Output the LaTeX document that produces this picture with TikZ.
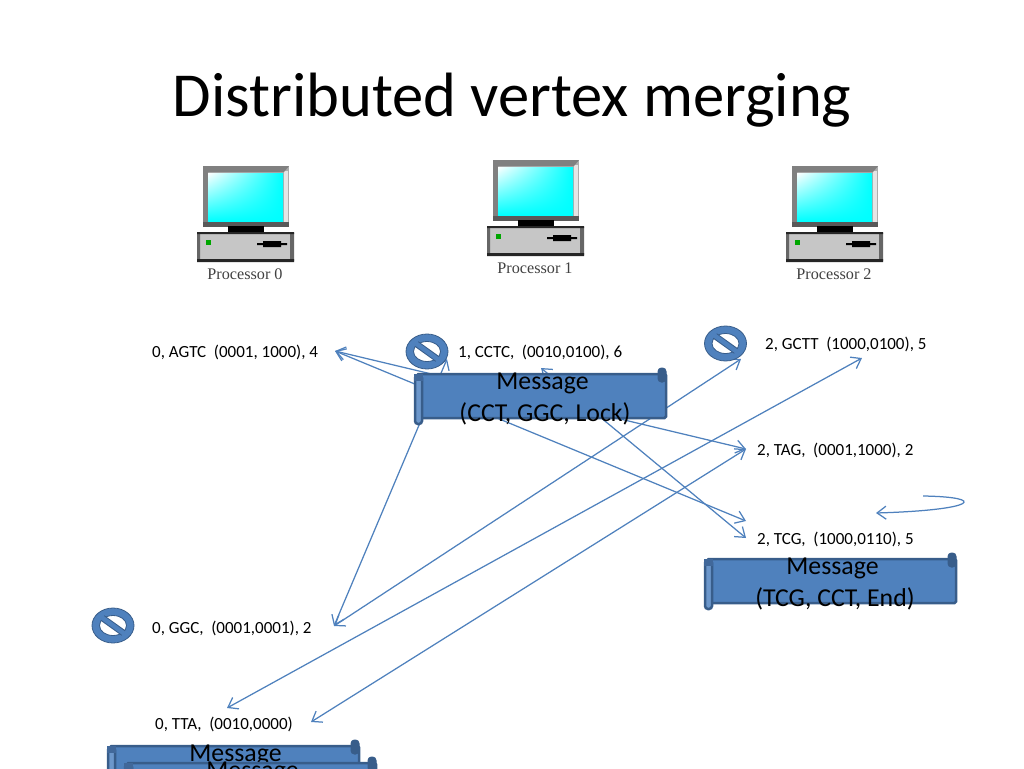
\documentclass[tikz,border=0pt]{standalone}
\usepackage{fontspec}
\usepackage{tikz}
\usepackage{xcolor}
\usetikzlibrary{arrows.meta,shadings}
\setmainfont{Carlito}
\newfontfamily\procfont{Liberation Serif}
\definecolor{linkblue}{HTML}{4F81BD}
\definecolor{rolledge}{HTML}{385D8A}
\definecolor{rollshade}{HTML}{41689A}
\definecolor{rolllight}{HTML}{6C97CB}
\tikzset{
  lab/.style={anchor=base west,inner sep=0pt,font=\fontsize{17}{20}\selectfont},
  link/.style={<->,draw=linkblue,line width=1.25pt},
  pics/computer/.style={code={
    \fill[gray!65] (0,0) rectangle (86,61);
    \fill[gray!20] (81,5) rectangle (85,56);
    \fill[gray] (0,0) -- (86,0) -- (81,6) -- (5,6) -- (5,56) -- (0,61) -- cycle;
    \fill[gray!70!black] (0,56) rectangle (86,61);
    \shade[upper left=white,upper right=cyan,lower left=cyan,lower right=cyan] (5,7) rectangle (80,55);
    \fill[black] (25,60) rectangle (61,66);
    \fill[gray!45] (-6,67) rectangle (91,95);
    \fill[gray!80!black] (-6,67) rectangle (-3,95) (87,67) rectangle (91,95);
    \fill[gray!30!black] (-6,66) rectangle (91,68) (-6,93) rectangle (91,96);
    \fill[green!65!black] (3,74) rectangle (8,79);
    \fill[black] (54,77) rectangle (84,79) (60,75) rectangle (78,81);
    \node (-label) [inner sep=0pt,text=black!75,font=\procfont\fontsize{16.2}{18}\selectfont] at (42,108.5) {#1};
  }},
  pics/nosign/.style={code={
    \draw[draw=rolledge,fill=linkblue,even odd rule,line width=0.8pt]
      (0,0) ellipse [x radius=21,y radius=17.5] (0,0) ellipse [x radius=13.5,y radius=10];
    \draw[draw=rolledge,line width=6.5pt] (-10.5,-7.5) -- (10.5,7.5);
    \draw[draw=linkblue,line width=4.5pt] (-11,-8) -- (11,8);
  }},
  pics/scrollbox/.style={code={
    \draw[draw=rolledge,fill=linkblue,line width=2.5pt,rounded corners=1.5pt] (2,0) rectangle (251,44);
    \draw[draw=rolledge,fill=rolledge,line width=1pt,rounded corners=3.5pt] (243,-6) rectangle (251,8);
    \draw[draw=rolledge,fill=rolllight,line width=2.5pt,rounded corners=3pt] (0,1) rectangle (7,50);
    \fill[rollshade] (-1,0) rectangle (8,7);
    \node (-text) [anchor=north,inner sep=0pt,align=center,font=\fontsize{25.8}{31.5}\selectfont] at (127.5,-1) {#1};
  }}
}
\begin{document}
\begin{tikzpicture}[x=1pt,y=-1pt,>={Straight Barb[length=9pt,width=13pt]}]
  \useasboundingbox (0,0) rectangle (1024,768);
  \clip (0,0) rectangle (1024,768);

  \node (title) [inner sep=0pt,font=\fontsize{62.6}{70}\selectfont] at (512,100) {Distributed vertex merging};

  \pic (proc0) at (203,166) {computer={Processor 0}};
  \pic (proc1) at (493,160) {computer={Processor 1}};
  \pic (proc2) at (792,166) {computer={Processor 2}};

  \node (AGTC) [lab] at (152,357) {0, AGTC\ \ (0001, 1000), 4};
  \node (CCTC) [lab] at (458,357) {1, CCTC,\ \ (0010,0100), 6};
  \node (GCTT) [lab] at (765,349) {2, GCTT\ \ (1000,0100), 5};
  \node (TAG) [lab] at (757,455) {2, TAG,\ \ (0001,1000), 2};
  \node (TCG) [lab] at (757,544) {2, TCG,\ \ (1000,0110), 5};
  \node (GGC) [lab] at (152,633) {0, GGC,\ \ (0001,0001), 2};
  \node (TTA) [lab] at (155,729) {0, TTA,\ \ (0010,0000)};

  % ends of the arrows
  \coordinate (AGTC_r) at (335,351);
  \coordinate (CCTC_b) at (541,368);
  \coordinate (CCTC_l) at (447,359);
  \coordinate (GCTT_l) at (741,359);
  \coordinate (GCTT_b) at (862,358);
  \coordinate (TAG_l) at (746,449);
  \coordinate (TCG_t) at (746,521);
  \coordinate (TCG_l) at (746,538);
  \coordinate (GGC_r) at (334,626);
  \coordinate (TTA_t) at (227,708);
  \coordinate (TTA_r) at (311,722);
  \coordinate (loop_s) at (923,496);
  \coordinate (loop_e) at (876,513);

  \path (AGTC_r) edge [link] (TAG_l);
  \path (AGTC_r) edge [link] (TCG_t);
  \path (CCTC_b) edge [link] (TCG_l);
  \path (GGC_r) edge [link] (CCTC_l);
  \path (GGC_r) edge [link] (GCTT_l);
  \path (TTA_t) edge [link] (GCTT_b);
  \path (TTA_r) edge [link] (TAG_l);
  \draw [->,draw=linkblue,line width=1.25pt] (loop_s) .. controls (988,497) and (978,510) .. (loop_e);

  \pic (no_CCTC) at (427,351.5) {nosign};
  \pic (no_GCTT) at (725.5,343.5) {nosign};
  \pic (no_GGC) at (113,625.5) {nosign};

  \pic (msg_lock) at (415,374) {scrollbox={Message\\\hspace*{5pt}(CCT, GGC, Lock)}};
  \pic (msg_end) at (705,559) {scrollbox={Message\\\hspace*{5pt}(TCG, CCT, End)}};
  \pic (msg_a) at (108,746) {scrollbox={Message}};
  \pic (msg_b) at (125,763) {scrollbox={Message}};
\end{tikzpicture}
\end{document}
